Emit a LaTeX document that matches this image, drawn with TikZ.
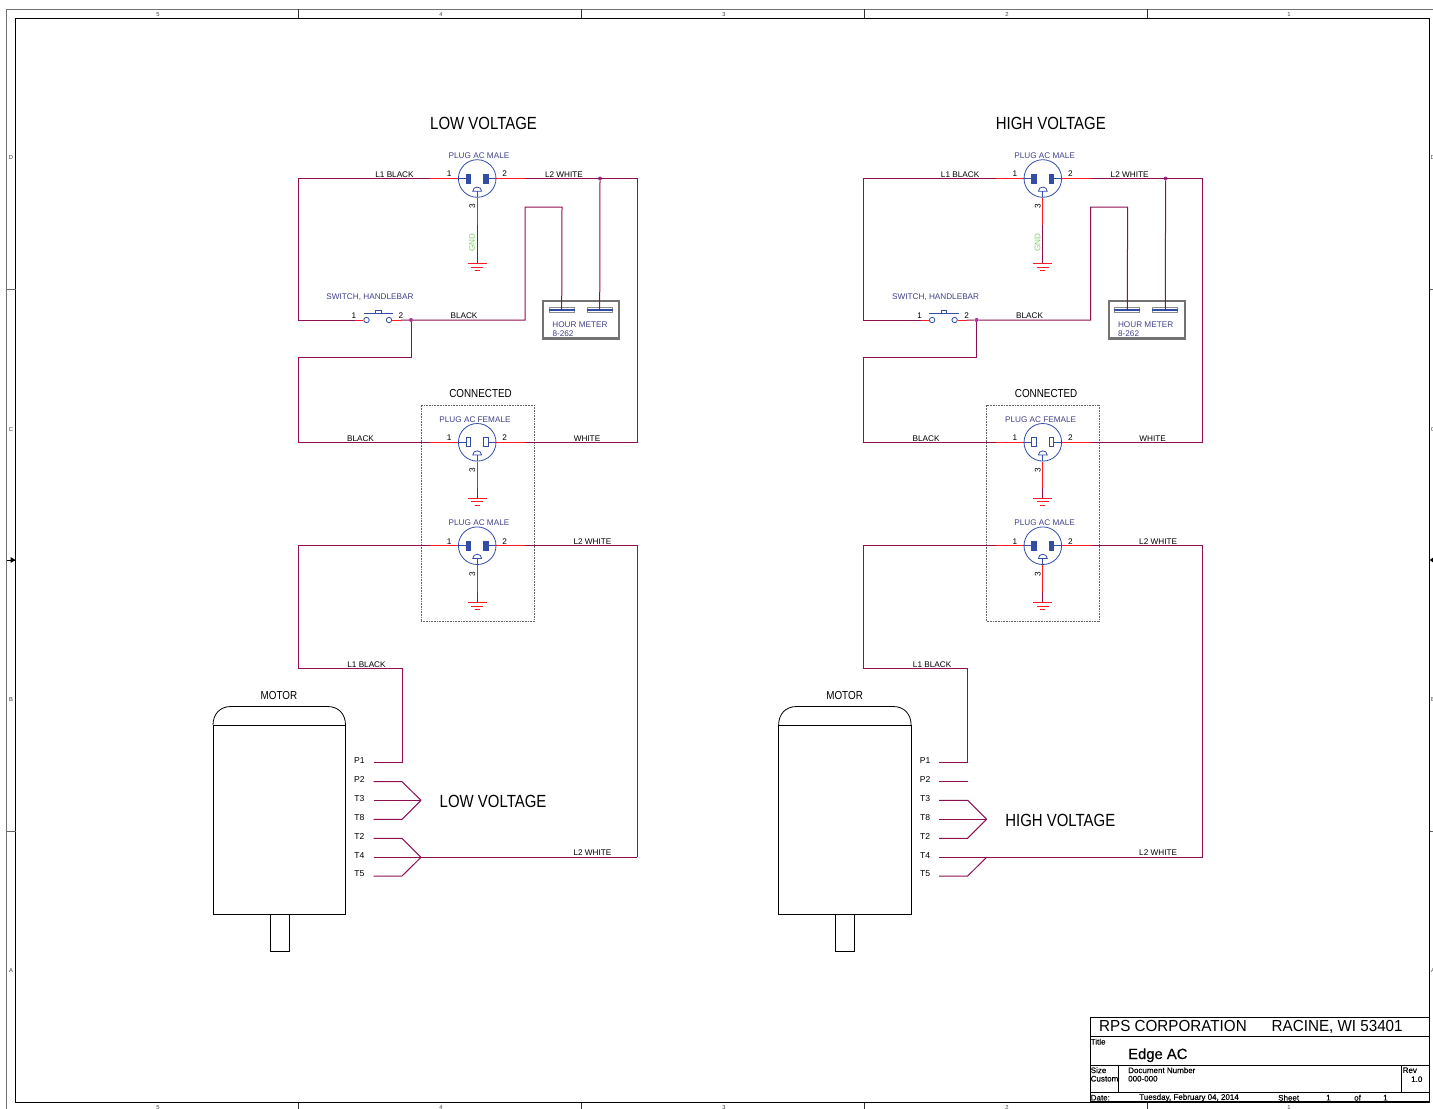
\documentclass[tikz,border=0pt]{standalone}
\usepackage{fontspec}
\usetikzlibrary{calc}
\setmainfont{Liberation Sans}
\newfontfamily\blockfont[FakeBold=0.4]{Liberation Sans}
\newfontfamily\headfont[FakeStretch=0.85]{Liberation Sans}
\newfontfamily\companyfont[FakeStretch=0.95]{Liberation Sans}
\definecolor{wirecol}{rgb}{0.56,0.06,0.32}
\definecolor{pincol}{rgb}{1.0,0.1,0.15}
\definecolor{partcol}{rgb}{0.2,0.3,0.66}
\definecolor{namecol}{rgb}{0.25,0.25,0.55}
\definecolor{gndcol}{rgb}{0.5,0.82,0.4}
\definecolor{dotcol}{rgb}{0.66,0.2,0.6}
\tikzset{
  wire/.style={draw=wirecol,line width=1bp,line join=miter},
  pinwire/.style={draw=pincol,line width=0.9bp},
  partline/.style={draw=partcol,line width=0.8bp},
  plugbody/.style={circle,draw=partcol,line width=0.8bp,minimum size=37.6bp,inner sep=0pt},
  junction/.style={circle,fill=dotcol,inner sep=0pt,minimum size=4bp},
  wirelabel/.style={font=\fontsize{8.2bp}{9bp}\selectfont,inner sep=0pt,text=black,yshift=-0.7bp},
  partlabel/.style={font=\fontsize{8.2bp}{9bp}\selectfont,inner sep=0pt,text=namecol,yshift=-0.7bp},
  headlabel/.style={font=\headfont\fontsize{17.6bp}{18bp}\selectfont,inner sep=0pt,anchor=west},
  midlabel/.style={font=\headfont\fontsize{11.6bp}{12bp}\selectfont,inner sep=0pt},
  framelabel/.style={font=\fontsize{5.8bp}{6bp}\selectfont,inner sep=0pt,text=black!75,yshift=-0.7bp},
  blocksmall/.style={font=\blockfont\fontsize{8bp}{9bp}\selectfont,inner sep=0pt,anchor=west,yshift=-0.7bp},
  blockbig/.style={font=\companyfont\fontsize{16bp}{17bp}\selectfont,inner sep=0pt,anchor=base west},
}
% plug symbol: name, position, fill of the blades, first ground y, ground y
\newcommand\plugsym[5]{
  \node[plugbody] (#1) at (#2) {};
  \begin{scope}[shift={(#1.center)}]
    \draw[partline] (-18.8,0) -- (-11,0) (18.8,0) -- (11,0);
    \draw[partline,fill=#3] (-11,-4.5) rectangle (-6.5,4.5);
    \draw[partline,fill=#3] (6.5,-4.5) rectangle (11,4.5);
    \draw[partline] (-4.4,12.7) .. controls (-4.4,7.2) and (4.4,7.2) .. (4.4,12.7) -- cycle;
    \draw[partline] (0,12.7) -- (0,18.8);
    \coordinate (#1-w) at (-47,0);
    \coordinate (#1-e) at (48,0);
    \coordinate (#1-s) at (0,#4);
    \coordinate (#1-g) at (0,#5);
    \node[wirelabel] (#1-one) at (-28,-5.2) {1};
    \node[wirelabel] (#1-two) at (27.5,-5.2) {2};
    \node[wirelabel,rotate=90] (#1-three) at (-5,27.5) {3};
  \end{scope}
  \draw[pinwire] (#1-w) -- (#1.west) (#1.east) -- (#1-e) (#1.south) -- (#1-s);
  \draw[wire] (#1-s) -- (#1-g);
  \draw[pinwire] ($(#1-g)+(-9.5,0)$) -- ($(#1-g)+(9.5,0)$);
  \draw[pinwire] ($(#1-g)+(-6,3.6)$) -- ($(#1-g)+(6,3.6)$);
  \draw[pinwire] ($(#1-g)+(-2.5,7.2)$) -- ($(#1-g)+(2.5,7.2)$);
}
% one half of the sheet, without the motor links
\newcommand\voltagesheet[1]{
  \node[headlabel] (head) at (430,123.7) {#1};
  %% mains plug
  \plugsym{mains}{477.2,178.5}{partcol}{46.5}{85}
  \node[partlabel] (mainsname) at (479,154.8) {PLUG AC MALE};
  \node[wirelabel] (mainsl1) at (394.5,174) {L1 BLACK};
  \node[wirelabel] (mainsl2) at (564,174) {L2 WHITE};
  \node[wirelabel,rotate=90,text=gndcol] (gndname) at (472,242) {GND};
  %% switch
  \coordinate (swl) at (355,320);
  \coordinate (swr) at (401,320);
  \node[circle,draw=partcol,line width=0.8bp,minimum size=5.4bp,inner sep=0pt] (swa) at (366.5,320) {};
  \node[circle,draw=partcol,line width=0.8bp,minimum size=5.4bp,inner sep=0pt] (swb) at (389,320) {};
  \draw[partline] (363.5,313.5) -- (393,313.5);
  \draw[partline] (375.5,313.5) rectangle (381,310.5);
  \draw[pinwire] (swl) -- (swa.west) (swb.east) -- (swr);
  \node[partlabel] (swname) at (370,296) {SWITCH, HANDLEBAR};
  \node[wirelabel] (swone) at (354,315) {1};
  \node[wirelabel] (swtwo) at (401,315) {2};
  \node[wirelabel] (swblack) at (464,315) {BLACK};
  %% hour meter
  \node[draw=black!55,line width=2.2bp,minimum width=76bp,minimum height=37.5bp,inner sep=0pt] (hmeter) at (581,319.7) {};
  \node[draw=black!45,line width=0.7bp,minimum width=25bp,minimum height=4.6bp,inner sep=0pt] (hmpa) at (561.7,310) {};
  \node[draw=black!45,line width=0.7bp,minimum width=25bp,minimum height=4.6bp,inner sep=0pt] (hmpb) at (599.7,310) {};
  \draw[partcol,line width=2bp] (hmpa.west) -- (hmpa.east) (hmpb.west) -- (hmpb.east);
  \node[partlabel] (hmname) at (580,324) {HOUR METER};
  \node[partlabel] (hmpart) at (563,333.2) {8-262};
  %% connected pair
  \node[midlabel] (conname) at (480.5,393.7) {CONNECTED};
  \node[draw=black!60,densely dotted,line width=0.6bp,minimum width=113bp,minimum height=216.5bp,inner sep=0pt] (conbox) at (477.5,513.2) {};
  \plugsym{female}{477.2,442.3}{white}{46}{55.7}
  \plugsym{male}{477.2,545.7}{partcol}{46}{56.7}
  \node[partlabel] (femalename) at (475,419) {PLUG AC FEMALE};
  \node[partlabel] (malename) at (479,522) {PLUG AC MALE};
  \node[wirelabel] (femblack) at (360.5,438) {BLACK};
  \node[wirelabel] (femwhite) at (587,438) {WHITE};
  \node[wirelabel] (malel2) at (592.5,541) {L2 WHITE};
  \node[wirelabel] (motl1) at (366.5,664) {L1 BLACK};
  %% motor
  \node[midlabel] (motname) at (279,695) {MOTOR};
  \draw[black,line width=0.8bp] (213,725) rectangle (345.5,914);
  \draw[black,line width=0.8bp] (213,725) .. controls (213,714) and (220,706.5) .. (231,706.5) -- (327.5,706.5) .. controls (338.5,706.5) and (345.5,714) .. (345.5,725);
  \draw[black,line width=0.8bp] (270,914) rectangle (289,951);
  \foreach \lead/\leady in {P1/762.7,P2/781.7,T3/800.3,T8/819.3,T2/838.3,T4/857.3,T5/876}{
    \coordinate (\lead) at (373.5,\leady);
    \coordinate (\lead k) at (402,\leady);
    \node[wirelabel,font=\fontsize{8.6bp}{9bp}\selectfont] (\lead name) at (359.5,\leady-2.7) {\lead};
  }
  \node[wirelabel] (motl2) at (592.5,852) {L2 WHITE};
  %% wires
  \coordinate (railL) at (298,178.5);
  \coordinate (railR) at (637,178.5);
  \node[junction] (jhm) at (600,178.5) {};
  \node[junction] (jsw) at (411,320) {};
  \draw[wire] (mains-w) -- (railL) -- (298,320) -- (swl);
  \draw[wire] (mains-e) -- (railR) -- (637,442.3) -- (female-e);
  \draw[wire] (jhm) -- (hmpb.center);
  \draw[wire] (swr) -- (jsw) -- (525,320) -- (525,207) -- (562,207) -- (hmpa.center);
  \draw[wire] (jsw) -- (411,357.5) -- (298,357.5) -- (298,442.3) -- (female-w);
  \draw[wire] (male-w) -- (298,545.7) -- (298,668.5) -- (402,668.5) -- (P1k) -- (P1);
  \coordinate (lineR) at (637,857.3);
  \draw[wire] (male-e) -- (637,545.7) -- (lineR);
}
\begin{document}
\begin{tikzpicture}[x=1bp,y=-1bp]
\useasboundingbox (0,0) rectangle (1433,1108);
\clip (0,0) rectangle (1433,1108);
  % Frame
  \draw[black!55,line width=0.9bp] (6.5,9) -- (1440,9);
  \draw[black!55,line width=0.9bp] (6.5,9) -- (6.5,1115);
  \draw[black,line width=0.9bp] (15.5,18) rectangle (1429.5,1102.5);
  \foreach \tickx in {298,581,864,1147}{
    \draw[black!80,line width=0.8bp] (\tickx,9) -- (\tickx,18);
    \draw[black!80,line width=0.8bp] (\tickx,1102.5) -- (\tickx,1110);
  }
  \foreach \ticky in {289,831}{
    \draw[black!60,line width=0.8bp] (6.5,\ticky) -- (15.5,\ticky);
    \draw[black!60,line width=0.8bp] (1429.5,\ticky) -- (1436,\ticky);
  }
  \fill[black] (15.5,560) -- (10.5,557) -- (10.5,563) -- cycle;
  \draw[black,line width=0.7bp] (6.5,560) -- (15.5,560);
  \fill[black] (1429.5,560) -- (1434,557) -- (1434,563) -- cycle;
  \foreach \colnum/\colx in {5/158,4/441,3/724,2/1007,1/1289}{
    \node[framelabel] (top\colnum) at (\colx,14) {\colnum};
    \node[framelabel] (bot\colnum) at (\colx,1106.5) {\colnum};
  }
  \foreach \rowname/\rowy in {D/157,C/429,B/699,A/970}{
    \node[framelabel] (left\rowname) at (11,\rowy) {\rowname};
    \node[framelabel] (right\rowname) at (1433,\rowy) {\rowname};
  }
  % Sheet: low voltage
  \begin{scope}[name prefix=lv-]
    \voltagesheet{LOW VOLTAGE}
    \coordinate (tipa) at (421,800.3);
    \coordinate (tipb) at (421,857.3);
    \node[headlabel] (linkname) at (439.5,801.7) {LOW VOLTAGE};
    \draw[wire] (P2) -- (P2k) -- (tipa);
    \draw[wire] (T3) -- (tipa);
    \draw[wire] (T8) -- (T8k) -- (tipa);
    \draw[wire] (T2) -- (T2k) -- (tipb);
    \draw[wire] (T4) -- (lineR);
    \draw[wire] (T5) -- (T5k) -- (tipb);
  \end{scope}
  % Sheet: high voltage
  \begin{scope}[xshift=565.6bp,name prefix=hv-]
    \voltagesheet{HIGH VOLTAGE}
    \coordinate (tipa) at (421,819.3);
    \coordinate (tipb) at (421,857.3);
    \node[headlabel] (linkname) at (439.5,820.7) {HIGH VOLTAGE};
    \draw[wire] (P2) -- (P2k);
    \draw[wire] (T3) -- (T3k) -- (tipa);
    \draw[wire] (T8) -- (tipa);
    \draw[wire] (T2) -- (T2k) -- (tipa);
    \draw[wire] (T4) -- (lineR);
    \draw[wire] (T5) -- (T5k) -- (tipb);
  \end{scope}
  % Title block
  \draw[black,line width=1bp] (1090,1017.3) rectangle (1429.5,1101.7);
  \draw[black,line width=1bp] (1090,1036) -- (1429.5,1036);
  \draw[black,line width=1bp] (1090,1065) -- (1429.5,1065);
  \draw[black,line width=1.3bp] (1090,1092.3) -- (1429.5,1092.3);
  \draw[black,line width=1bp] (1118,1065) -- (1118,1092.3);
  \draw[black,line width=1bp] (1401.5,1065) -- (1401.5,1092.3);
  \node[blockbig] (company) at (1099,1031.5) {RPS CORPORATION};
  \node[blockbig] (city) at (1271.5,1031.5) {RACINE, WI 53401};
  \node[blocksmall] (titlecap) at (1090.5,1041) {Title};
  \node[blockbig,font=\blockfont\fontsize{14.8bp}{16bp}\selectfont] (titletext) at (1128,1059) {Edge AC};
  \node[blocksmall] (sizecap) at (1090.5,1069.5) {Size};
  \node[blocksmall] (sizetext) at (1090.5,1078) {Custom};
  \node[blocksmall] (doccap) at (1128,1069.5) {Document Number};
  \node[blocksmall] (doctext) at (1128,1078) {000-000};
  \node[blocksmall] (revcap) at (1402.5,1069.5) {Rev};
  \node[blocksmall] (revtext) at (1411,1078.5) {1.0};
  \node[blocksmall] (datecap) at (1090.5,1097) {Date:};
  \node[blocksmall] (datetext) at (1139,1097) {Tuesday, February 04, 2014};
  \node[blocksmall] (sheetcap) at (1278,1097) {Sheet};
  \node[blocksmall] (sheetnum) at (1326,1097) {1};
  \node[blocksmall] (ofcap) at (1354,1097) {of};
  \node[blocksmall] (sheetall) at (1383,1097) {1};
\end{tikzpicture}
\end{document}
